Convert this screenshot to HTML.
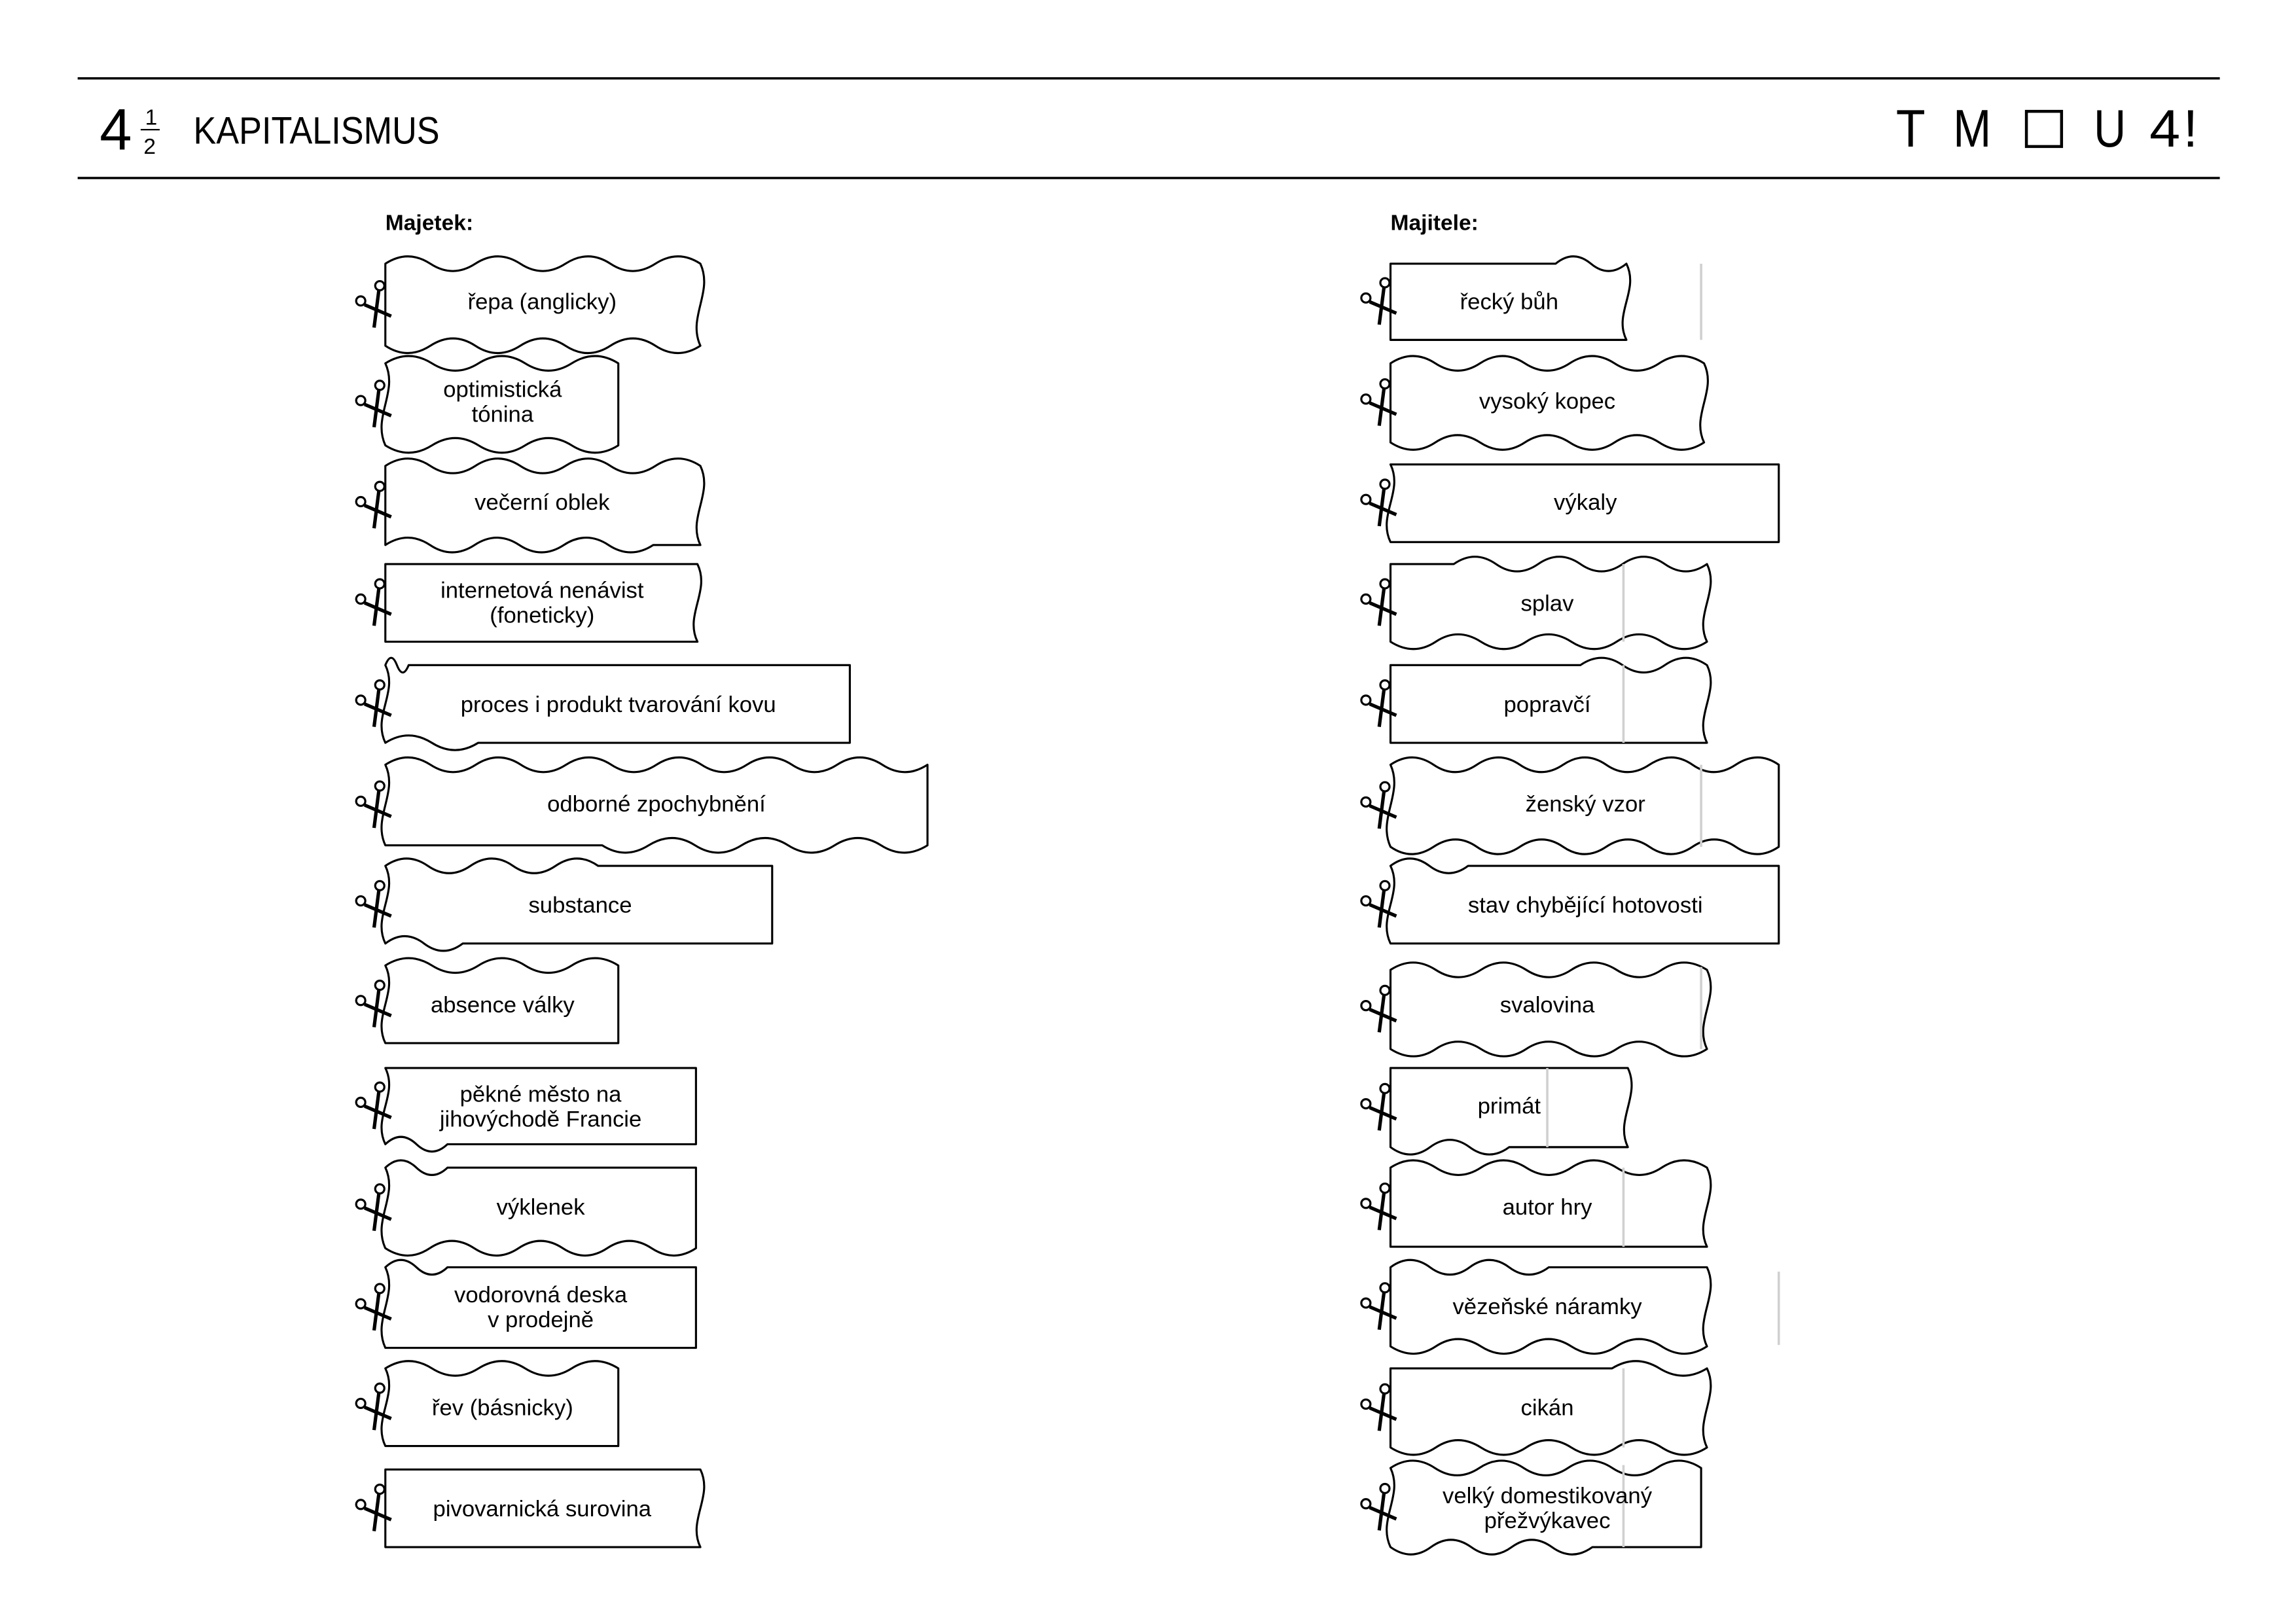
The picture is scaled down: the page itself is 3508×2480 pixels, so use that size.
<!DOCTYPE html>
<html><head><meta charset="utf-8">
<style>
html,body{margin:0;padding:0;background:#fff;}
svg{display:block;}
text{font-family:"Liberation Sans","DejaVu Sans",sans-serif;fill:#000;}
</style></head>
<body>
<svg id="s" width="3508" height="2480" viewBox="0 0 1567 1107.8" xmlns="http://www.w3.org/2000/svg">
<rect x="0" y="0" width="1570" height="1110" fill="#fff"/>
<line x1="53" y1="53.5" x2="1515" y2="53.5" stroke="#000" stroke-width="1.6"/>
<line x1="53" y1="121.5" x2="1515" y2="121.5" stroke="#000" stroke-width="1.6"/>
<text x="68" y="102" font-size="40" textLength="22" lengthAdjust="spacingAndGlyphs">4</text>
<text x="99" y="85" font-size="15">1</text>
<line x1="96" y1="88.5" x2="109" y2="88.5" stroke="#000" stroke-width="1"/>
<text x="98" y="105" font-size="15">2</text>
<text x="132" y="98" font-size="26" textLength="168" lengthAdjust="spacingAndGlyphs">KAPITALISMUS</text>
<text x="1294" y="100" font-size="36" textLength="20" lengthAdjust="spacingAndGlyphs">T</text>
<text x="1333" y="100" font-size="36" textLength="26" lengthAdjust="spacingAndGlyphs">M</text>
<rect x="1383" y="76" width="24" height="24" fill="none" stroke="#000" stroke-width="2"/>
<text x="1429" y="100" font-size="36" textLength="22" lengthAdjust="spacingAndGlyphs">U</text>
<text x="1467" y="100" font-size="36" textLength="21" lengthAdjust="spacingAndGlyphs">4</text>
<text x="1490" y="100" font-size="36">!</text>
<text x="263" y="157" font-size="15" font-weight="bold">Majetek:</text>
<text x="949" y="157" font-size="15" font-weight="bold">Majitele:</text>
<g id="cards" fill="#fff" stroke="#000" stroke-width="1.4" stroke-linejoin="round"></g>
<g id="greys" stroke="#d0d0d0" stroke-width="1.6"></g>
<g id="sc"></g>
<g id="labels" font-size="15.5" text-anchor="middle">
<text x="370" y="211">řepa (anglicky)</text>
<text x="343" y="271">optimistická</text><text x="343" y="288">tónina</text>
<text x="370" y="348">večerní oblek</text>
<text x="370" y="408">internetová nenávist</text><text x="370" y="425">(foneticky)</text>
<text x="422" y="486">proces i produkt tvarování kovu</text>
<text x="448" y="554">odborné zpochybnění</text>
<text x="396" y="623">substance</text>
<text x="343" y="691">absence války</text>
<text x="369" y="752">pěkné město na</text><text x="369" y="769">jihovýchodě Francie</text>
<text x="369" y="829">výklenek</text>
<text x="369" y="889">vodorovná deska</text><text x="369" y="906">v prodejně</text>
<text x="343" y="966">řev (básnicky)</text>
<text x="370" y="1035">pivovarnická surovina</text>
<text x="1030" y="211">řecký bůh</text>
<text x="1056" y="279">vysoký kopec</text>
<text x="1082" y="348">výkaly</text>
<text x="1056" y="417">splav</text>
<text x="1056" y="486">popravčí</text>
<text x="1082" y="554">ženský vzor</text>
<text x="1082" y="623">stav chybějící hotovosti</text>
<text x="1056" y="691">svalovina</text>
<text x="1030" y="760">primát</text>
<text x="1056" y="829">autor hry</text>
<text x="1056" y="897">vězeňské náramky</text>
<text x="1056" y="966">cikán</text>
<text x="1056" y="1026">velký domestikovaný</text><text x="1056" y="1043">přežvýkavec</text>
</g>
</svg>
<script>
(function(){
var NS="http://www.w3.org/2000/svg";
var P=60,A=5;
function hwave(xs,xe,y,spec,dir){
  var d="";
  if(!spec){return " L"+xe+" "+y;}
  var a=0,b=1; if(spec!==1){a=spec[0];b=spec[1];}
  var len=xe-xs;
  var wa=xs+len*a, wb=xs+len*b;
  d+=" L"+wa.toFixed(1)+" "+y;
  var n=Math.max(2,Math.round(Math.abs(wb-wa)/(P/2)));
  var st=(wb-wa)/n;
  d+=" Q"+(wa+st/2).toFixed(1)+" "+(y-dir*A*2).toFixed(1)+" "+(wa+st).toFixed(1)+" "+y;
  for(var i=2;i<=n;i++){d+=" T"+(wa+st*i).toFixed(1)+" "+y;}
  d+=" L"+xe+" "+y;
  return d;
}
function card(x0,y0,x1,y1,t,b,l,r){
  var h=y1-y0;
  if(b && b!==1){b=[1-b[1],1-b[0]];}
  var d="M"+x0+" "+y0;
  d+=hwave(x0,x1,y0,t,1);
  if(r){d+=" C"+(x1+9)+" "+(y0+h*0.35)+" "+(x1-9)+" "+(y0+h*0.65)+" "+x1+" "+y1;}
  else d+=" L"+x1+" "+y1;
  d+=hwave(x1,x0,y1,b,-1);
  if(l){d+=" C"+(x0-9)+" "+(y0+h*0.65)+" "+(x0+9)+" "+(y0+h*0.35)+" "+x0+" "+y0;}
  d+=" Z";
  var p=document.createElementNS(NS,"path");p.setAttribute("d",d);
  document.getElementById("cards").appendChild(p);
  var g=document.getElementById("sc");
  var cx=x0-9, cy=y0+h/2;
  var s='<g transform="translate('+cx+','+cy+') scale(1.3)" fill="none" stroke="#000" stroke-width="1.1">'+
   '<circle cx="-6" cy="-2" r="2.4"/><circle cx="4" cy="-10" r="2.4"/>'+
   '<path d="M-4 0 L10 6" stroke-width="1.8"/><path d="M3.5 -7.5 L1 12" stroke-width="1.8"/></g>';
  g.insertAdjacentHTML("beforeend",s);
}
function grey(x,y0,y1){
  var l=document.createElementNS(NS,"line");
  l.setAttribute("x1",x);l.setAttribute("x2",x);l.setAttribute("y1",y0);l.setAttribute("y2",y1);
  document.getElementById("greys").appendChild(l);
}
var L=263;
card(L,180,478,236,1,1,0,1);
card(L,248,422,304,1,1,1,0);
card(L,318,478,372,1,[0,0.85],0,1);
card(L,385,476,438,0,0,0,1);
card(L,454,580,507,[0,0.05],[0,0.2],1,0);
card(L,522,633,577,1,[0.4,1],1,0);
card(L,591,527,644,[0,0.55],[0,0.2],1,0);
card(L,659,422,712,1,0,1,0);
card(L,729,475,781,0,[0,0.2],1,0);
card(L,797,475,852,[0,0.2],1,1,0);
card(L,865,475,920,[0,0.2],0,1,0);
card(L,934,422,987,1,0,1,0);
card(L,1003,478,1056,0,0,0,1);
var R=949;
grey(1161,180,232); grey(1108,385,438); grey(1108,454,507); grey(1161,522,578);
grey(1161,660,716); grey(1056,729,783); grey(1108,797,851); grey(1214,868,918);
grey(1108,934,988); grey(1108,1000,1056);
card(R,180,1110,232,[0.7,1],0,0,1);
card(R,248,1163,302,1,1,0,1);
card(R,317,1214,370,0,0,1,0);
card(R,385,1165,438,[0.2,1],1,0,1);
card(R,454,1165,507,[0.6,1],0,0,1);
card(R,522,1214,578,1,1,1,0);
card(R,591,1214,644,[0,0.2],0,1,0);
card(R,662,1165,716,1,1,0,1);
card(R,729,1111,783,0,[0,0.5],0,1);
card(R,797,1165,851,1,0,0,1);
card(R,865,1165,919,[0,0.5],1,0,1);
card(R,934,1165,988,[0.7,1],1,0,1);
card(R,1002,1161,1056,1,[0,0.65],1,0);
})();
</script>
</body></html>
